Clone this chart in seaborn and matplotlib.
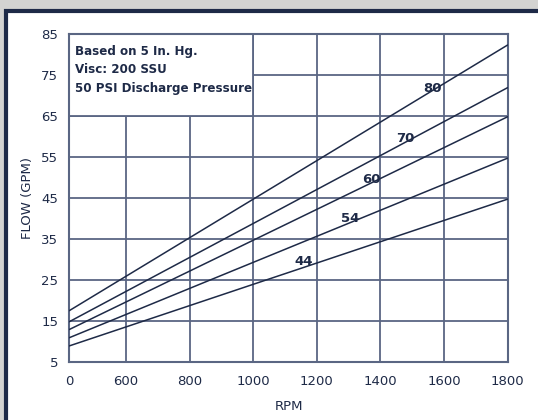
import matplotlib
matplotlib.use("Agg")
import matplotlib.pyplot as plt
from matplotlib.patches import Rectangle
import numpy as np
import pandas as pd
import seaborn as sns

sns.set_style("white")
plt.rcParams['font.family'] = ['DejaVu Sans']

# chart values (flow in GPM at the left edge "0" and at 1800 RPM)
rpm_left = 422
rpm_points = [rpm_left, 1800]
curves = ["80", "70", "60", "54", "44"]
flow_80 = [17.6, 82.4]
flow_70 = [14.9, 72.0]
flow_60 = [13.0, 64.9]
flow_54 = [11.0, 54.8]
flow_44 = [9.0, 44.8]

# label anchor points (rpm, flow)
label_rpm = [1565, 1479, 1373, 1304, 1160]
label_flow = [71.7, 59.5, 49.5, 40.0, 29.5]

x_ticks = [rpm_left, 600, 800, 1000, 1200, 1400, 1600, 1800]
x_ticklabels = ["0", "600", "800", "1000", "1200", "1400", "1600", "1800"]
y_ticks = [5, 15, 25, 35, 45, 55, 65, 75, 85]

note = "Based on 5 In. Hg.\nVisc: 200 SSU\n50 PSI Discharge Pressure"

navy = "#1e2a47"
grid_c = "#5a6683"

rows = []
for name, vals in zip(curves, [flow_80, flow_70, flow_60, flow_54, flow_44]):
    for r, v in zip(rpm_points, vals):
        rows.append({"RPM": r, "FLOW": v, "curve": name})
df = pd.DataFrame(rows)

fig = plt.figure(figsize=(5.38, 4.20), dpi=100, facecolor="#d3d3d1")
# framed white panel
fig.patches.append(Rectangle((5.5 / 538, -0.05), 1.0, 1 - 10.5 / 420 + 0.05,
                             transform=fig.transFigure, facecolor="white",
                             edgecolor=navy, linewidth=3, zorder=-5))

ax = fig.add_axes([69.3 / 538, 1 - 362.3 / 420, 438.4 / 538, 328 / 420])
ax.set_zorder(2)
ax.set_facecolor("white")

sns.lineplot(data=df, x="RPM", y="FLOW", hue="curve",
             palette=[navy] * len(curves), legend=False,
             linewidth=1.1, ax=ax, zorder=3)

ax.set_xlim(rpm_left, 1800)
ax.set_ylim(5, 85)
ax.set_xticks(x_ticks)
ax.set_xticklabels(x_ticklabels)
ax.set_yticks(y_ticks)
ax.tick_params(length=0, labelsize=9.5, labelcolor=navy)
ax.tick_params(axis="x", pad=9)
ax.tick_params(axis="y", pad=8)

ax.grid(True, color=grid_c, linewidth=1.3)
ax.set_axisbelow(True)
for s in ax.spines.values():
    s.set_color(grid_c)
    s.set_linewidth(1.5)

# white note box covering the grid in the upper left
ax.add_patch(Rectangle((rpm_left, 65), 1000 - rpm_left, 20, facecolor="white",
                       edgecolor=grid_c, linewidth=1.3, zorder=2))
ax.text(rpm_left + 17, 82.5, note, ha="left", va="top", fontsize=8.6,
        fontweight="bold", color=navy, linespacing=1.55, zorder=4)

for name, lx, ly in zip(curves, label_rpm, label_flow):
    ax.text(lx, ly, name, ha="center", va="center", fontsize=9.5,
            fontweight="bold", color=navy, zorder=4)

ax.set_xlabel("RPM", fontsize=9.5, color=navy, labelpad=9)
ax.set_ylabel("FLOW (GPM)", fontsize=9.5, color=navy, labelpad=5)

fig.savefig("out.png", dpi=100, facecolor=fig.get_facecolor())
